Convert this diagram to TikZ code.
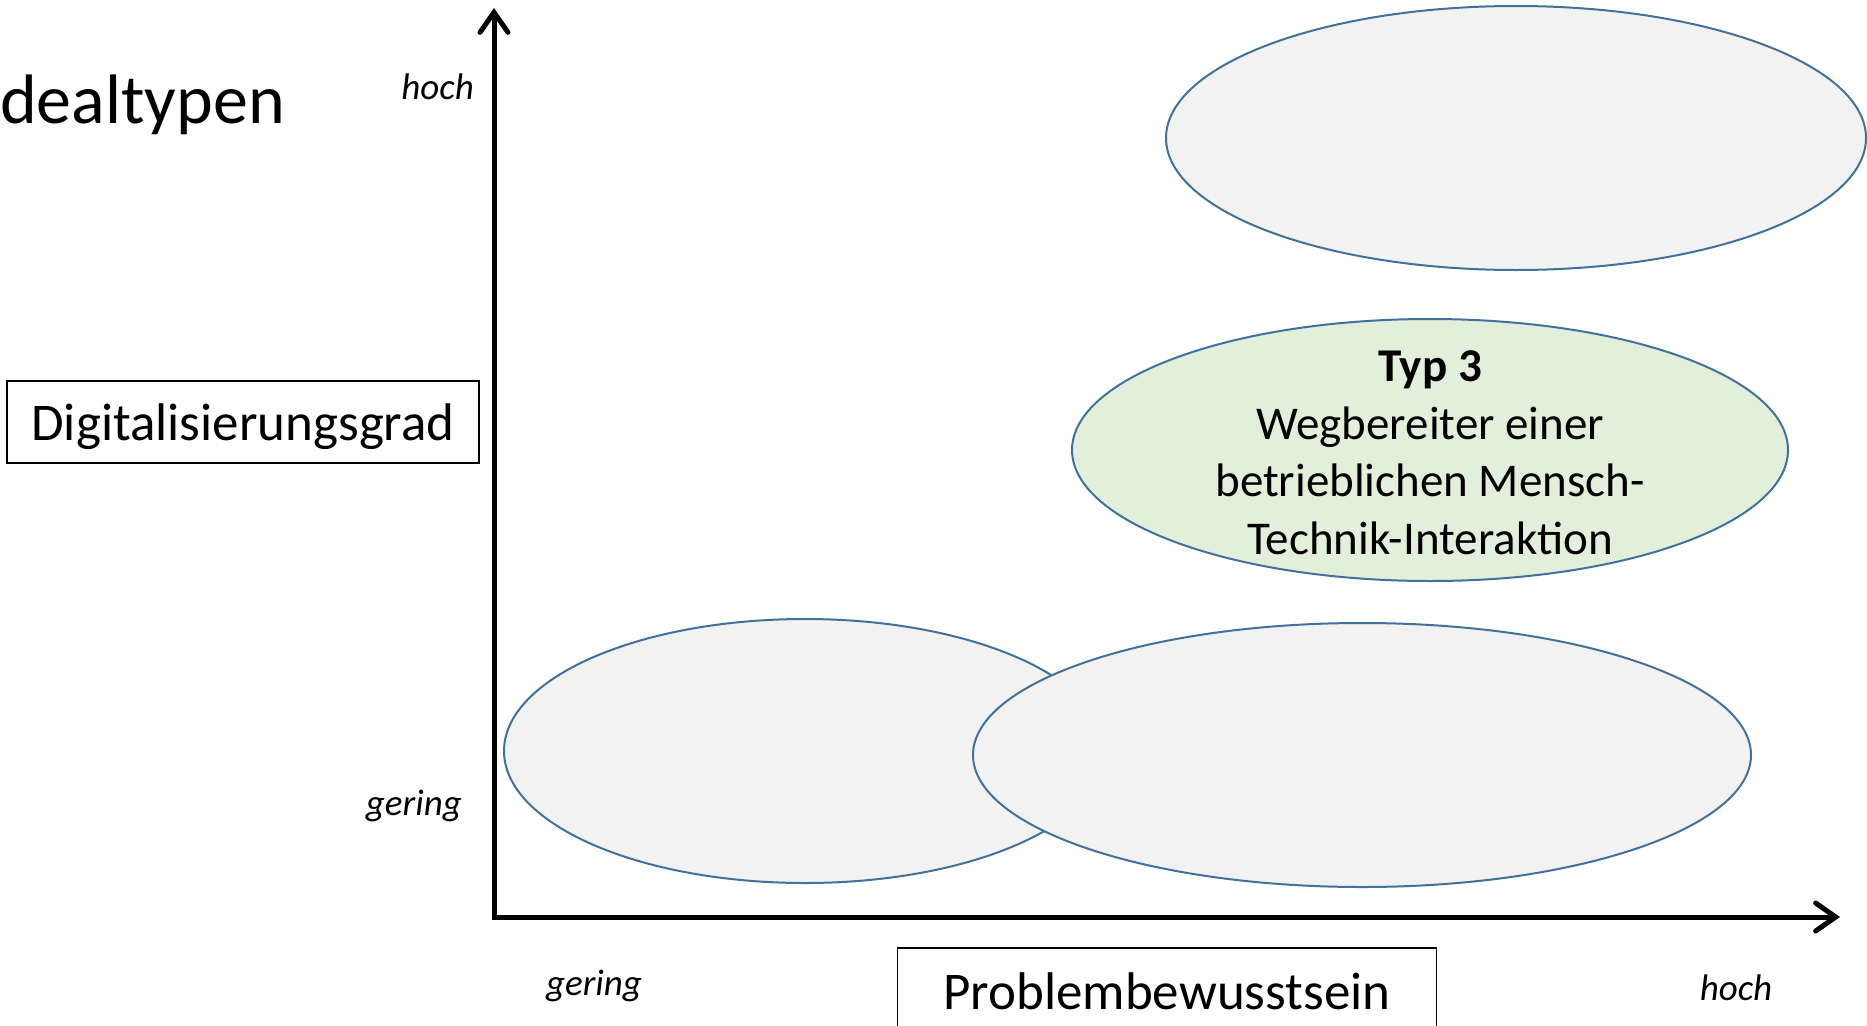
\documentclass[tikz,border=0pt]{standalone}
\usepackage{fontspec}
\setmainfont{Carlito}
\usetikzlibrary{shapes.geometric,arrows.meta}
\definecolor{typrand}{HTML}{41719C}
\definecolor{typgrau}{HTML}{F2F2F2}
\definecolor{typgruen}{HTML}{E2EFDA}

\begin{document}
\begin{tikzpicture}[x=1pt,y=-1pt,
    typ/.style={ellipse,draw=typrand,line width=2pt,fill=typgrau,inner sep=0pt},
    achse/.style={line width=5pt,{Straight Barb[length=20pt,width=28pt,line cap=round]}-{Straight Barb[length=20pt,width=28pt,line cap=round]}},
    stufe/.style={inner sep=0pt,font=\fontsize{37}{44}\selectfont\itshape},
    kasten/.style={draw,line width=1.5pt,inner sep=0pt,font=\fontsize{53}{64}\selectfont}]
    \useasboundingbox (0,0) rectangle (1867,1025);
    \node[anchor=west,inner sep=0pt,font=\fontsize{70}{84}\selectfont] (titel) at (0,105) {dealtypen};
    % achsen
    \coordinate (o) at (494,917);
    \coordinate (ytop) at (494,8);
    \coordinate (xend) at (1840,917);
    \draw[achse] (ytop) -- (o) -- (xend);
    \node[stufe,anchor=east] (yhoch) at (474,87) {hoch};
    \node[stufe,anchor=east] (ygering) at (462,806) {gering};
    \node[stufe] (xgering) at (594,986) {gering};
    \node[stufe] (xhoch) at (1736,988) {hoch};
    \node[kasten,minimum width=472pt,minimum height=82pt,text depth=0pt] (digi) at (243,422) {Digitalisierungsgrad};
    \node[kasten,minimum width=539pt,minimum height=86pt] (problem) at (1167,991) {Problembewusstsein};
    % typen
    \node[typ,minimum width=700pt,minimum height=264pt] (oben) at (1516,138) {};
    \node[typ,fill=typgruen,minimum width=716pt,minimum height=262pt] (typdrei) at (1430,450) {};
    \node[align=center,font=\fontsize{47}{57.5}\selectfont] (typdreitext) at ([yshift=-3pt]typdrei.center)
        {\textbf{Typ 3}\\Wegbereiter einer\\betrieblichen Mensch-\\Technik-Interaktion};
    \node[typ,minimum width=602pt,minimum height=264pt] (links) at (805,751) {};
    \node[typ,minimum width=778pt,minimum height=264pt] (rechts) at (1362,755) {};
\end{tikzpicture}
\end{document}
